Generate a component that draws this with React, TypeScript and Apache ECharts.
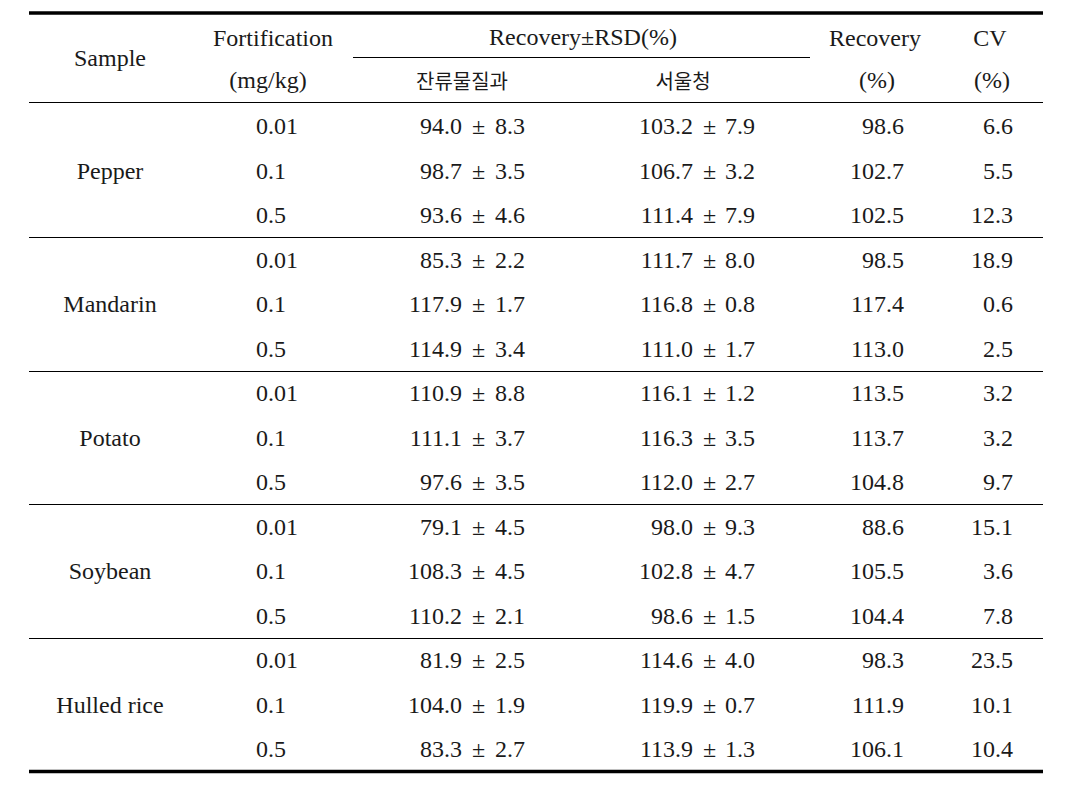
import React, { useEffect, useRef } from "react";
import * as echarts from "echarts";

// ---- data ----
const samples = ["Pepper", "Mandarin", "Potato", "Soybean", "Hulled rice"];
const levels = ["0.01", "0.1", "0.5"];
const lab1Rec = [94.0, 98.7, 93.6, 85.3, 117.9, 114.9, 110.9, 111.1, 97.6, 79.1, 108.3, 110.2, 81.9, 104.0, 83.3];
const lab1Rsd = [8.3, 3.5, 4.6, 2.2, 1.7, 3.4, 8.8, 3.7, 3.5, 4.5, 4.5, 2.1, 2.5, 1.9, 2.7];
const lab2Rec = [103.2, 106.7, 111.4, 111.7, 116.8, 111.0, 116.1, 116.3, 112.0, 98.0, 102.8, 98.6, 114.6, 119.9, 113.9];
const lab2Rsd = [7.9, 3.2, 7.9, 8.0, 0.8, 1.7, 1.2, 3.5, 2.7, 9.3, 4.7, 1.5, 4.0, 0.7, 1.3];
const meanRec = [98.6, 102.7, 102.5, 98.5, 117.4, 113.0, 113.5, 113.7, 104.8, 88.6, 105.5, 104.4, 98.3, 111.9, 106.1];
const cvVals = [6.6, 5.5, 12.3, 18.9, 0.6, 2.5, 3.2, 3.2, 9.7, 15.1, 3.6, 7.8, 23.5, 10.1, 10.4];

const headSample = "Sample";
const headFort = ["Fortification", "(mg/kg)"];
const headRsd = "Recovery±RSD(%)";
const headLabs = ["잔류물질과", "서울청"];
const headRec = ["Recovery", "(%)"];
const headCv = ["CV", "(%)"];

const FONT = "Liberation Serif";
const KFONT = "Noto Sans CJK KR";

export default function App() {
  const ref = useRef<HTMLDivElement>(null);
  useEffect(() => {
    if (!ref.current) return;
    const chart = echarts.init(ref.current, null, { renderer: "svg" });
    const els: any[] = [];
    const txt = (s: string, x: number, y: number, align: string, font = FONT) => {
      const latin = font === FONT;
      els.push({
        type: "text",
        x,
        y,
        style: {
          text: s,
          fill: "#1a1a1a",
          fontFamily: font,
          fontSize: latin ? 24 : 20,
          fontWeight: "normal",
          align,
          verticalAlign: "middle",
        },
      });
    };
    const line = (x1: number, y1: number, x2: number, y2: number, w: number) => {
      els.push({
        type: "line",
        shape: { x1, y1, x2, y2 },
        style: { stroke: "#000", lineWidth: w },
      });
    };
    const L = 29, R = 1043;
    line(L, 13, R, 13, 3.5);
    line(353, 57.5, 810, 57.5, 1.2);
    line(L, 102.5, R, 102.5, 1.2);
    line(L, 771.5, R, 771.5, 3.5);

    // header
    txt(headSample, 110, 58, "center");
    txt(headFort[0], 273, 38, "center");
    txt(headFort[1], 268, 80, "center");
    txt(headRsd, 583, 37, "center");
    txt(headLabs[0], 462, 80, "center", KFONT);
    txt(headLabs[1], 683, 80, "center", KFONT);
    txt(headRec[0], 875, 38, "center");
    txt(headRec[1], 877, 80, "center");
    txt(headCv[0], 990, 38, "center");
    txt(headCv[1], 992, 80, "center");

    const rowY = (i: number) => 126 + 44.5 * i;
    samples.forEach((s, g) => {
      txt(s, 110, rowY(g * 3 + 1), "center");
      if (g > 0) {
        const ly = Math.round(rowY(g * 3) - 22.25) + 0.5;
        line(L, ly, R, ly, 1.2);
      }
      levels.forEach((lv, r) => {
        const i = g * 3 + r;
        const y = rowY(i);
        txt(lv, 256, y, "left");
        txt(lab1Rec[i].toFixed(1), 462, y, "right");
        txt("±", 478.5, y, "center");
        txt(lab1Rsd[i].toFixed(1), 495, y, "left");
        txt(lab2Rec[i].toFixed(1), 693, y, "right");
        txt("±", 709.5, y, "center");
        txt(lab2Rsd[i].toFixed(1), 725, y, "left");
        txt(meanRec[i].toFixed(1), 904, y, "right");
        txt(cvVals[i].toFixed(1), 1013, y, "right");
      });
    });

    chart.setOption({
      animation: false,
      backgroundColor: "#fff",
      graphic: { elements: els },
    });
    return () => chart.dispose();
  }, []);
  return (
    <div
      ref={ref}
      style={{ position: "fixed", left: 0, top: 0, width: 1078, height: 786, background: "#fff" }}
    />
  );
}
